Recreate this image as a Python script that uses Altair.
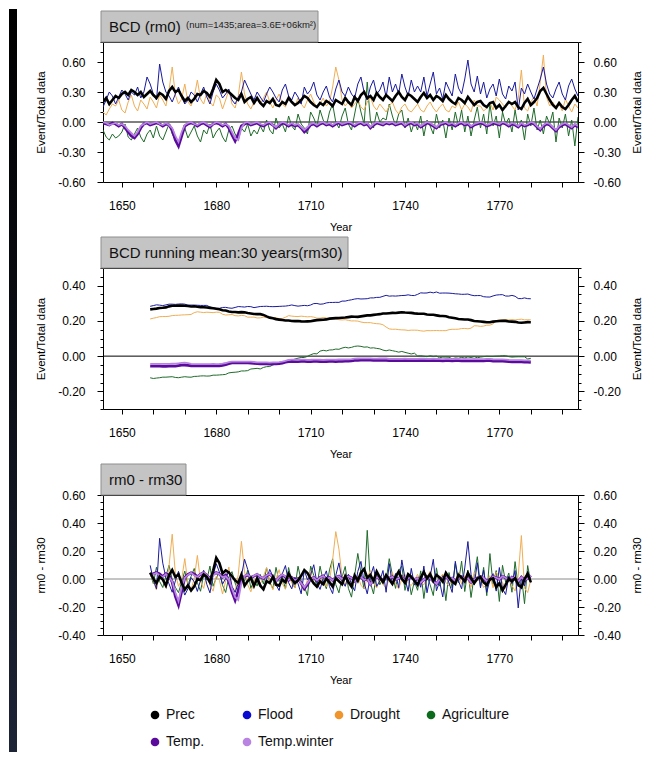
import altair as alt
import numpy as np
import pandas as pd

years = list(range(1644, 1796))

prec = [0.20,0.24,0.18,0.22,0.26,0.24,0.28,0.30,0.27,0.32,
        0.30,0.27,0.30,0.25,0.28,0.31,0.27,0.24,0.29,0.27,
        0.23,0.31,0.35,0.30,0.32,0.26,0.21,0.24,0.20,0.23,
        0.28,0.27,0.31,0.29,0.25,0.33,0.42,0.38,0.30,0.32,
        0.30,0.27,0.24,0.22,0.28,0.20,0.23,0.25,0.19,0.24,
        0.19,0.16,0.21,0.19,0.23,0.17,0.16,0.20,0.18,0.24,
        0.20,0.17,0.19,0.22,0.26,0.24,0.20,0.17,0.15,0.19,
        0.17,0.21,0.19,0.16,0.22,0.20,0.18,0.24,0.20,0.17,
        0.25,0.21,0.27,0.30,0.24,0.26,0.22,0.29,0.25,0.22,
        0.27,0.24,0.21,0.26,0.30,0.25,0.22,0.28,0.26,0.23,
        0.20,0.25,0.29,0.24,0.27,0.22,0.26,0.24,0.21,0.27,
        0.23,0.20,0.18,0.24,0.22,0.19,0.25,0.21,0.17,0.20,
        0.21,0.17,0.15,0.19,0.20,0.14,0.17,0.12,0.16,0.20,
        0.18,0.20,0.15,0.13,0.19,0.23,0.17,0.20,0.24,0.31,
        0.34,0.28,0.22,0.17,0.14,0.19,0.15,0.13,0.17,0.22,
        0.26,0.20]

flood = [0.15,0.22,0.30,0.26,0.18,0.25,0.32,0.28,0.22,0.30,
         0.27,0.35,0.24,0.30,0.45,0.38,0.28,0.22,0.58,0.40,
         0.30,0.26,0.20,0.28,0.35,0.25,0.18,0.22,0.30,0.27,
         0.20,0.28,0.35,0.25,0.18,0.30,0.38,0.32,0.24,0.28,
         0.33,0.22,0.18,0.25,0.30,0.42,0.35,0.28,0.22,0.30,
         0.25,0.20,0.28,0.35,0.30,0.24,0.20,0.32,0.38,0.26,
         0.22,0.30,0.25,0.18,0.35,0.28,0.32,0.40,0.27,0.22,
         0.30,0.36,0.25,0.20,0.33,0.42,0.30,0.26,0.35,0.28,
         0.24,0.38,0.45,0.30,0.22,0.35,0.42,0.28,0.32,0.40,
         0.25,0.45,0.30,0.38,0.28,0.48,0.35,0.26,0.42,0.30,
         0.36,0.30,0.45,0.26,0.38,0.50,0.28,0.34,0.23,0.40,
         0.33,0.26,0.48,0.34,0.28,0.43,0.62,0.38,0.30,0.46,
         0.28,0.40,0.24,0.33,0.38,0.26,0.43,0.28,0.23,0.36,
         0.31,0.40,0.12,0.34,0.28,0.38,0.30,0.23,0.33,0.43,
         0.55,0.38,0.28,0.24,0.33,0.40,0.28,0.22,0.36,0.43,
         0.33,0.26]

drought = [0.10,0.07,0.13,0.18,0.16,0.22,0.12,0.09,0.20,0.27,
           0.16,0.11,0.22,0.18,0.13,0.25,0.20,0.14,0.27,0.22,
           0.16,0.32,0.55,0.27,0.18,0.23,0.38,0.20,0.16,0.25,
           0.42,0.23,0.18,0.29,0.20,0.16,0.27,0.24,0.13,0.22,
           0.32,0.18,0.14,0.26,0.50,0.28,0.18,0.13,0.20,0.24,
           0.18,0.24,0.30,0.20,0.14,0.22,0.28,0.18,0.15,0.25,
           0.20,0.16,0.24,0.18,0.14,0.22,0.28,0.20,0.15,0.18,
           0.24,0.16,0.20,0.35,0.55,0.42,0.22,0.16,0.20,0.14,
           0.18,0.22,0.15,0.12,0.20,0.25,0.16,0.12,0.18,0.14,
           0.10,0.16,0.20,0.12,0.08,0.15,0.18,0.12,0.10,0.14,
           0.18,0.12,0.10,0.16,0.20,0.14,0.10,0.15,0.18,0.12,
           0.10,0.16,0.14,0.20,0.12,0.18,0.15,0.10,0.22,0.16,
           0.16,0.11,0.14,0.20,0.12,0.25,0.22,0.18,0.14,0.21,
           0.16,0.12,0.23,0.52,0.14,0.11,0.20,0.25,0.16,0.40,
           0.67,0.25,0.16,0.20,0.14,0.18,0.11,0.23,0.16,0.10,
           0.18,0.14]

agriculture = [-0.08,-0.15,-0.18,-0.12,-0.16,-0.14,-0.10,-0.02,-0.15,-0.18,
               -0.12,-0.06,-0.15,-0.20,-0.12,-0.08,-0.16,-0.04,-0.14,-0.18,
               -0.10,-0.02,-0.12,-0.18,-0.22,-0.14,-0.06,-0.16,-0.10,-0.04,
               -0.14,-0.20,-0.08,-0.12,-0.02,-0.16,-0.10,-0.06,-0.15,-0.20,
               -0.08,-0.04,-0.12,-0.18,-0.06,-0.10,-0.02,-0.14,-0.08,-0.12,
               -0.04,-0.10,0.02,-0.08,-0.12,0.04,-0.06,-0.02,-0.10,0.06,
               -0.04,-0.08,0.08,-0.02,-0.06,-0.12,0.10,0.04,-0.04,0.12,
               0.02,-0.04,0.10,0.18,0.00,-0.06,0.06,0.14,-0.02,-0.08,
               0.08,0.24,0.10,-0.02,0.40,0.02,-0.06,0.10,0.00,0.04,
               0.02,0.18,0.06,-0.04,0.08,0.12,-0.06,0.04,-0.10,0.00,
               -0.08,0.06,-0.14,0.02,-0.04,-0.12,0.08,-0.06,0.02,-0.16,
               0.04,-0.08,0.10,-0.04,0.12,-0.10,0.06,-0.14,0.02,0.15,
               -0.06,0.08,-0.12,0.18,-0.04,0.06,-0.16,0.10,-0.02,0.04,
               -0.10,0.12,-0.06,0.02,-0.18,0.08,-0.04,0.14,-0.08,0.02,
               -0.12,0.06,-0.02,0.10,-0.20,0.04,-0.06,0.08,-0.14,0.02,
               -0.24,0.05]

temp = [-0.01,-0.02,-0.03,-0.01,-0.02,-0.04,-0.02,-0.06,-0.10,-0.14,
        -0.16,-0.12,-0.06,-0.02,-0.01,-0.03,-0.02,-0.01,-0.02,-0.04,
        -0.02,-0.03,-0.08,-0.18,-0.24,-0.14,-0.04,-0.02,-0.01,-0.02,
        -0.04,-0.02,-0.01,-0.03,-0.05,-0.02,-0.01,-0.02,-0.04,-0.02,
        -0.06,-0.13,-0.19,-0.12,-0.04,-0.02,-0.01,-0.03,-0.02,-0.01,
        -0.03,-0.04,-0.02,-0.01,-0.03,-0.06,-0.03,-0.01,-0.02,-0.04,
        -0.02,-0.04,-0.03,-0.06,-0.10,-0.07,-0.03,-0.02,-0.04,-0.02,
        -0.01,-0.03,-0.02,-0.04,-0.02,-0.01,-0.03,-0.02,-0.01,-0.02,
        -0.04,-0.02,-0.01,-0.03,-0.02,-0.06,-0.03,-0.01,-0.02,-0.03,
        -0.01,-0.02,-0.01,-0.03,-0.02,-0.01,-0.04,-0.02,-0.01,-0.03,
        -0.02,-0.05,-0.03,-0.01,-0.02,-0.04,-0.06,-0.03,-0.02,-0.01,
        -0.03,-0.02,-0.04,-0.02,-0.01,-0.03,-0.02,-0.05,-0.03,-0.02,
        -0.01,-0.02,-0.04,-0.03,-0.01,-0.02,-0.03,-0.01,-0.02,-0.04,
        -0.02,-0.03,-0.05,-0.02,-0.04,-0.03,-0.01,-0.02,-0.05,-0.08,
        -0.04,-0.02,-0.03,-0.06,-0.09,-0.05,-0.03,-0.02,-0.04,-0.06,
        -0.03,-0.05]

temp_winter = [0.00,-0.01,-0.03,-0.02,-0.01,-0.03,-0.02,-0.04,-0.08,-0.11,
               -0.14,-0.10,-0.04,-0.02,0.00,-0.02,-0.01,0.00,-0.02,-0.03,
               -0.01,-0.03,-0.06,-0.14,-0.20,-0.10,-0.03,-0.01,0.00,-0.02,
               -0.03,-0.01,0.00,-0.02,-0.04,-0.02,0.00,-0.01,-0.03,-0.02,
               -0.04,-0.10,-0.16,-0.18,-0.06,-0.01,0.00,-0.02,-0.01,0.00,
               -0.02,-0.03,-0.01,0.00,-0.03,-0.05,-0.02,0.00,-0.01,-0.03,
               -0.01,-0.03,-0.02,-0.05,-0.08,-0.05,-0.02,-0.01,-0.03,-0.01,
               0.00,-0.02,-0.01,-0.03,-0.01,0.00,-0.02,-0.01,0.00,-0.01,
               -0.03,-0.01,0.00,-0.02,-0.01,-0.05,-0.02,0.00,-0.01,-0.02,
               0.00,-0.01,0.00,-0.02,-0.01,0.00,-0.03,-0.01,0.00,-0.02,
               -0.01,-0.04,-0.02,0.00,-0.01,-0.03,-0.05,-0.02,-0.01,0.00,
               -0.02,-0.01,-0.03,-0.01,0.00,-0.02,-0.01,-0.04,-0.02,-0.01,
               0.00,-0.01,-0.03,-0.02,0.00,-0.01,-0.02,0.00,-0.01,-0.03,
               -0.01,-0.02,-0.04,-0.01,-0.03,-0.02,0.00,-0.01,-0.04,-0.07,
               -0.03,-0.01,-0.02,-0.05,-0.08,-0.04,-0.02,-0.01,-0.03,-0.05,
               -0.02,-0.04]

SERIES = ["Prec", "Flood", "Drought", "Agriculture", "Temp.", "Temp.winter"]
COLORS = ["#000000", "#0a0ad0", "#f0952c", "#0d6b1e", "#5a0b9c", "#b983e2"]
LINE_COLORS = {"Prec": "#000000", "Flood": "#1a1a9e", "Drought": "#f0ae55",
               "Agriculture": "#1f6b2a", "Temp.": "#5a0b9c", "Temp.winter": "#b983e2"}
WIDTHS = {"Prec": 2.6, "Flood": 1.0, "Drought": 1.0, "Agriculture": 1.0,
          "Temp.": 2.8, "Temp.winter": 1.8}
DRAW_ORDER = ["Agriculture", "Drought", "Flood", "Temp.", "Temp.winter", "Prec"]

rm0 = pd.DataFrame({"Prec": prec, "Flood": flood, "Drought": drought,
                    "Agriculture": agriculture, "Temp.": temp,
                    "Temp.winter": temp_winter}, index=years)
rm0.index.name = "year"
rm30 = rm0.rolling(31, center=True).mean().dropna()
diff = rm0.loc[rm30.index] - rm30

FONT = "Liberation Sans"
LABEL_FIX = "replace(format(datum.value, '.2f'), '\u2212', '-')"
W = 475

EDGE = alt.LinearGradient(
    gradient="linear", x1=0, y1=0, x2=0, y2=1,
    stops=[alt.GradientStop(color="#000000", offset=0),
           alt.GradientStop(color="#0b0e16", offset=0.5),
           alt.GradientStop(color="#1d2436", offset=1)])


def ticks(lo, hi, step):
    n = int(round((hi - lo) / step))
    return [round(lo + i * step, 3) for i in range(n + 1)]


def panel(wide, ydom, major, minor_step, ytitle, title, subtitle, box_w,
          zero_color, h, edges=False):
    long = wide.reset_index().melt("year", var_name="series", value_name="value")
    xenc = alt.X("year:Q",
                 scale=alt.Scale(domain=[1644, 1795], nice=False, zero=False),
                 axis=alt.Axis(values=list(range(1650, 1791, 10)),
                               labelExpr="datum.value % 30 == 0 ? toString(datum.value) : ''",
                               title="Year", titleFontSize=11,
                               titleFontWeight="normal", titlePadding=10,
                               tickSize=5, labelPadding=13, labelFontSize=12,
                               domain=False, grid=False))
    yscale = alt.Scale(domain=ydom, nice=False, zero=False)
    minor = [v for v in ticks(ydom[0], ydom[1], minor_step)
             if all(abs(v - m) > 1e-6 for m in major)]
    layers = []
    if edges:
        edf = pd.DataFrame({"e": ["left"]})
        layers.append(alt.Chart(edf).mark_rect(fill=EDGE).encode(
            x=alt.value(-94), x2=alt.value(-86),
            y=alt.value(-33), y2=alt.value(710)))
    zero = alt.Chart(pd.DataFrame({"v": [0.0]})).mark_rule(
        color=zero_color, strokeWidth=1).encode(
        y=alt.Y("v:Q", scale=yscale, axis=None))
    layers.append(zero)
    for s in DRAW_ORDER:
        d = long[long.series == s]
        layers.append(alt.Chart(d).mark_line(
            color=LINE_COLORS[s], strokeWidth=WIDTHS[s], clip=True).encode(
            x=xenc, y=alt.Y("value:Q", scale=yscale, axis=None)))
    axes_df = pd.DataFrame({"v": [0.0]})
    for orient, lpad, tpad in [("left", 12, 11), ("right", 9, 22)]:
        layers.append(alt.Chart(axes_df).mark_rule(opacity=0).encode(
            y=alt.Y("v:Q", scale=yscale, axis=alt.Axis(
                orient=orient, values=major, labelExpr=LABEL_FIX,
                title=ytitle, titleFontSize=11.5, titleFontWeight="normal",
                titleAngle=270, titlePadding=tpad, labelPadding=lpad,
                tickSize=6, labelFontSize=12, domain=False, grid=False))))
        layers.append(alt.Chart(axes_df).mark_rule(opacity=0).encode(
            y=alt.Y("v:Q", scale=yscale, axis=alt.Axis(
                orient=orient, values=minor, labels=False, title=None,
                tickSize=3, domain=False, grid=False))))
    tdf = pd.DataFrame({"t": [title], "s": [subtitle]})
    layers.append(alt.Chart(tdf).mark_rect(
        fill="#c4c4c4", stroke="#8e8e8e", strokeWidth=1).encode(
        x=alt.value(-2), x2=alt.value(box_w), y=alt.value(-31), y2=alt.value(0)))
    layers.append(alt.Chart(tdf).mark_text(
        align="left", baseline="middle", fontSize=15, color="#111111").encode(
        x=alt.value(6), y=alt.value(-15), text="t:N"))
    if subtitle:
        layers.append(alt.Chart(tdf).mark_text(
            align="left", baseline="middle", fontSize=9.5, color="#222222").encode(
            x=alt.value(83), y=alt.value(-17), text="s:N"))
    return alt.layer(*layers).resolve_axis(y="independent").properties(
        width=W, height=h)


p1 = panel(rm0, [-0.6, 0.8], [-0.6, -0.3, 0.0, 0.3, 0.6], 0.1,
           "Event/Total data", "BCD (rm0)", "(num=1435;area=3.6E+06km\u00b2)",
           215, "#000000", 140, edges=True)
p2 = panel(rm30, [-0.3, 0.5], [-0.2, 0.0, 0.2, 0.4], 0.05,
           "Event/Total data", "BCD running mean:30 years(rm30)", "",
           245, "#000000", 141)
p3 = panel(diff, [-0.4, 0.6], [-0.4, -0.2, 0.0, 0.2, 0.4, 0.6], 0.05,
           "rm0 - rm30", "rm0 - rm30", "", 83, "#8a8a8a", 140)

leg = pd.DataFrame({"series": SERIES, "col": [0, 1, 2, 3, 0, 1],
                    "row": [0, 0, 0, 0, 1, 1]})
cscale = alt.Scale(domain=SERIES, range=COLORS)
lbase = alt.Chart(leg).encode(
    x=alt.X("col:Q", scale=alt.Scale(domain=[0, 3], range=[52, 328]), axis=None),
    y=alt.Y("row:Q", scale=alt.Scale(domain=[0, 1], range=[-6, 21]), axis=None))
lpts = lbase.mark_point(filled=True, size=75, opacity=1).encode(
    color=alt.Color("series:N", scale=cscale, legend=None))
ltxt = lbase.mark_text(align="left", baseline="middle", dx=11, fontSize=14,
                       color="#111111").encode(text="series:N")
legend_chart = alt.layer(lpts, ltxt).properties(
    width=W, height=20, view=alt.ViewBackground(stroke="transparent"))

chart = alt.vconcat(p1, p2, p3, legend_chart, spacing=86, bounds="flush").properties(
    padding={"left": 0, "top": 0, "right": 0, "bottom": 0},
    background="white"
).configure(font=FONT).configure_view(stroke="#000000", strokeWidth=1).configure_axis(
    labelColor="#000000", tickColor="#000000", titleColor="#000000",
    labelFont=FONT, titleFont=FONT)

chart.save("out.html", embed_options={"renderer": "svg", "actions": False})
